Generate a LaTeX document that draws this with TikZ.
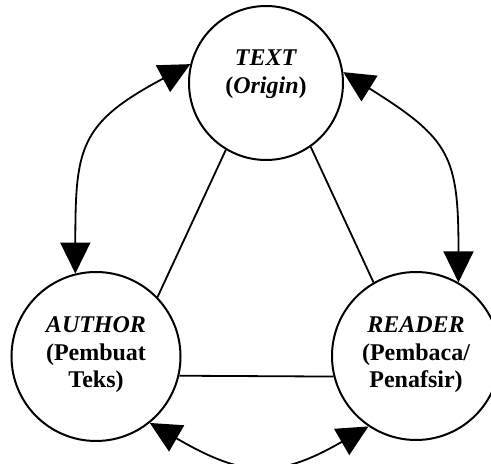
\documentclass[tikz,border=0pt]{standalone}
\usepackage{fontspec}
\setmainfont{Liberation Serif}
\usetikzlibrary{arrows.meta}
\begin{document}
\begin{tikzpicture}[x=1pt, y=1pt, line width=1.8pt, main node/.style={circle,draw,line width=2pt,inner sep=0pt}, name node/.style={font=\bfseries\fontsize{24}{27.5}\selectfont,align=center,inner sep=0pt}, both way/.style={{Triangle[length=31pt,width=30pt]}-{Triangle[length=31pt,width=30pt]}}]%
\useasboundingbox (0,0) rectangle (491,464);
\begin{scope}
\node[main node,minimum size=154pt] (text) at (266,381) {};
\node[main node,minimum size=169pt] (author) at (96,107.5) {};
\node[main node,minimum size=168pt] (reader) at (416,108) {};
\end{scope}
\begin{scope}[every node/.style={name node}]
\node (textlbl) at (266,390) {\textit{TEXT}\\(\textit{Origin})};
\node (authorlbl) at (96,109) {\textit{AUTHOR}\\(Pembuat\\Teks)};
\node (readerlbl) at (416,109) {\textit{READER}\\(Pembaca/\\Penafsir)};
\end{scope}
\begin{scope}
\draw (text.239) edge (author.44);
\draw (text.305) edge (reader.120);
\draw (author.-13) edge (reader.194);
%\draw (text) edge (text);
\end{scope}
\begin{scope}[both way]
\draw (text.166) to[out=208,in=90,looseness=1.35] (author.104);
\draw (text.8) to[out=-32,in=90,looseness=1.35] (reader.60);
\draw (author.-51) to[out=-30,in=210,looseness=1.25] (reader.236);
\end{scope}
\end{tikzpicture}
\end{document}
